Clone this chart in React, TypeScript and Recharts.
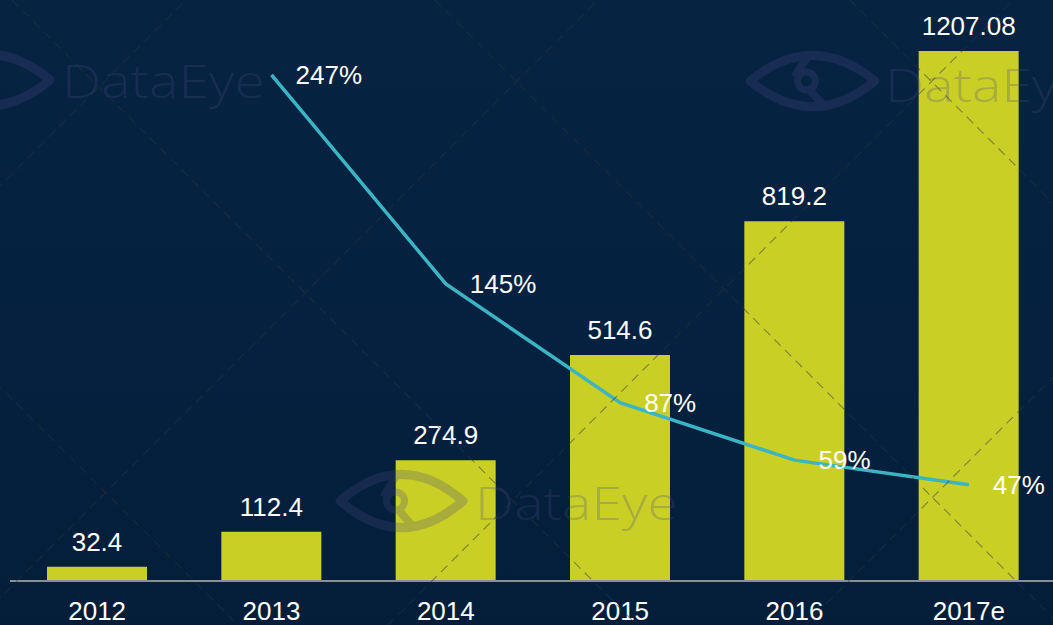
import React from 'react';
import { ComposedChart, Bar, Line, XAxis, YAxis, LabelList } from 'recharts';

// market size (bars) and growth rate (line)
const years = ['2012', '2013', '2014', '2015', '2016', '2017e'];
const marketSize = [32.4, 112.4, 274.9, 514.6, 819.2, 1207.08];
const growthRate: Array<number | null> = [null, 247, 145, 87, 59, 47];

const chartData = years.map((year, i) => ({
  year,
  size: marketSize[i],
  growth: growthRate[i],
}));

const FONT = '"Liberation Sans", Arial, sans-serif';

const GrowthLabel = (props: any) => {
  const { x, y, value } = props;
  if (value == null) return null;
  return (
    <text x={x + 24} y={y} dy="0.36em" fill="#ffffff" fontSize={26} fontFamily={FONT} textAnchor="start">
      {value}%
    </text>
  );
};

// faint watermark logo
const Eye = ({ x0, x1, cy, h }: { x0: number; x1: number; cy: number; h: number }) => {
  const cx = (x0 + x1) / 2;
  return (
    <g fill="none" stroke="#4a4a80" strokeWidth={9}>
      <path d={`M${x0},${cy} Q${cx},${cy - h * 1.9} ${x1},${cy} Q${cx},${cy + h * 1.9} ${x0},${cy} Z`} strokeLinejoin="round" />
      <circle cx={cx - 6} cy={cy} r={9} strokeWidth={7} />
      <path d={`M${cx - 6},${cy - h + 4} L${cx - 18},${cy - 4} M${cx - 2},${cy + 10} L${cx + 10},${cy + h - 4}`} strokeWidth={8} />
    </g>
  );
};

const Watermarks = () => {
  const upRight = [186, 598, 1013, 1430];
  const downRight = [-387, 12, 435, 850];
  return (
    <svg width={1053} height={625} style={{ position: 'absolute', left: 0, top: 0, pointerEvents: 'none' }}>
      <g stroke="#2f3540" strokeWidth={1.1} strokeDasharray="9 6" opacity={0.5}>
        {upRight.map((c) => (
          <line key={'u' + c} x1={c - 625} y1={625} x2={c} y2={0} />
        ))}
        {downRight.map((c) => (
          <line key={'d' + c} x1={c} y1={0} x2={c + 625} y2={625} />
        ))}
      </g>
      <g opacity={0.26}>
        <Eye x0={-73} x1={50} cy={80} h={27} />
        <Eye x0={750} x1={875} cy={81} h={27} />
        <Eye x0={340} x1={463} cy={501} h={28} />
        <g fill="#4a4a80" fontFamily='"Open Sans", sans-serif' fontWeight={300} fontSize={46}>
          <text x={62} y={98} textLength={203} lengthAdjust="spacingAndGlyphs">DataEye</text>
          <text x={885} y={102} textLength={203} lengthAdjust="spacingAndGlyphs">DataEye</text>
          <text x={475} y={520} textLength={203} lengthAdjust="spacingAndGlyphs">DataEye</text>
        </g>
      </g>
    </svg>
  );
};

export default function App() {
  return (
    <div
      style={{
        position: 'absolute',
        left: 0,
        top: 0,
        width: 1053,
        height: 625,
        background: 'linear-gradient(180deg, #062341 0%, #05213f 60%, #041e3a 100%)',
        overflow: 'hidden',
        fontFamily: FONT,
      }}
    >
      <ComposedChart width={1053} height={625} data={chartData} margin={{ top: 51, right: -3, left: 10, bottom: 0 }}>
        <XAxis
          dataKey="year"
          height={44}
          axisLine={{ stroke: '#8a8e96', strokeWidth: 2 }}
          tickLine={false}
          tickSize={0}
          tickMargin={21}
          tick={{ fill: '#ffffff', fontSize: 26, fontFamily: FONT }}
          interval={0}
        />
        <YAxis yAxisId="left" hide domain={[0, 1207.08]} />
        <YAxis yAxisId="right" hide orientation="right" domain={[0, 258.7]} />
        <Bar yAxisId="left" dataKey="size" fill="#c9cf25" barSize={100} isAnimationActive={false}>
          <LabelList dataKey="size" position="top" offset={16} fill="#ffffff" fontSize={26} fontFamily={FONT} />
        </Bar>
        <Line
          yAxisId="right"
          type="linear"
          dataKey="growth"
          stroke="#3bb5c3"
          strokeWidth={3.5}
          dot={false}
          activeDot={false}
          isAnimationActive={false}
        >
          <LabelList dataKey="growth" content={<GrowthLabel />} />
        </Line>
      </ComposedChart>
      <Watermarks />
    </div>
  );
}
